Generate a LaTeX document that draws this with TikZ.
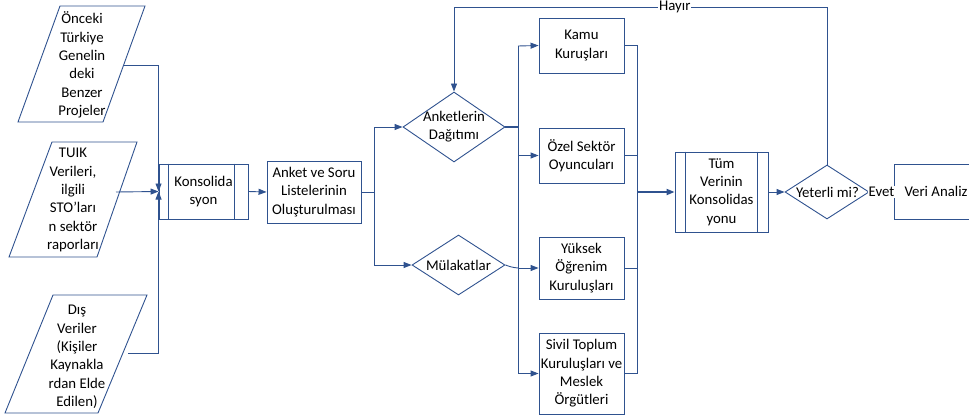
\documentclass[tikz,border=0pt]{standalone}
\usepackage{fontspec}
\setmainfont{Carlito}
\usetikzlibrary{shapes.geometric,arrows.meta}
\definecolor{flowblue}{RGB}{47,82,143}

\begin{document}
\begin{tikzpicture}[x=1pt,y=-1pt,line width=0.9pt,
    txt/.style={align=center,font=\fontsize{14.8}{18.3}\selectfont,inner sep=0pt},
    box/.style={draw=flowblue,rectangle,align=center,font=\fontsize{14.8}{18.3}\selectfont,inner sep=0pt},
    dia/.style={draw=flowblue,diamond,inner sep=0pt},
    lbl/.style={fill=white,font=\fontsize{14.8}{18.3}\selectfont,inner sep=1pt},
    link/.style={draw=flowblue},
    arr/.style={draw=flowblue,-{Triangle[length=8pt,width=6pt]}},
    heavy/.style={line width=1.8pt}]
\useasboundingbox (0,0) rectangle (969,417);
\clip (0,0) rectangle (969,417);

% Inputs
\draw [flowblue] (60,6) -- (145,6) -- (103,122) -- (18,122) -- cycle;
\node [txt] (onceki) at (82,65) {Önceki\\Türkiye\\Genelin\\deki\\Benzer\\Projeler};
\coordinate (onceki out) at (124,65);
\draw [flowblue] (52,142) -- (137,142) -- (97,257) -- (9,257) -- cycle;
\node [txt] (tuik) at (73,200) {TUIK\\Verileri,\\ilgili\\STO’ları\\n sektör\\raporları};
\coordinate (tuik out) at (116,192);
\draw [flowblue] (53,295) -- (147,295) -- (98,413) -- (5,413) -- cycle;
\node [txt] (dis) at (77,357) {Dış\\Veriler\\(Kişiler\\Kaynakla\\rdan Elde\\Edilen)};
\coordinate (dis out) at (128,353);

% Consolidation and lists
\node [box,minimum width=89pt,minimum height=55pt] (konsol) at (203.5,191.5) {Konsolida\\syon};
\draw [flowblue] ([xshift=10pt]konsol.north west) -- ([xshift=10pt]konsol.south west);
\draw [flowblue] ([xshift=-14pt]konsol.north east) -- ([xshift=-14pt]konsol.south east);
\node [box,minimum width=94pt,minimum height=62pt] (liste) at (314,192) {Anket ve Soru\\Listelerinin\\Oluşturulması};
\coordinate (split) at (374,192);

% Methods
\node [dia,minimum width=102pt,minimum height=70pt] (dagitim) at (454,127) {};
\node [txt] (dagitim text) at (454,126.5) {Anketlerin\\Dağıtımı};
\node [dia,minimum width=93pt,minimum height=60pt] (mulakat) at (458.5,265) {};
\node [txt] (mulakat text) at (458.5,265) {Mülakatlar};

% Sources
\node [box,minimum width=85pt,minimum height=55pt] (kamu) at (581.5,45.5) {Kamu\\Kuruşları};
\node [box,minimum width=85pt,minimum height=55pt] (ozel) at (581.5,155.5) {Özel Sektör\\Oyuncuları};
\node [box,minimum width=85pt,minimum height=62pt] (yuksek) at (581.5,268) {Yüksek\\Öğrenim\\Kuruluşları};
\node [box,minimum width=85pt,minimum height=81pt] (sivil) at (581.5,373.5) {Sivil Toplum\\Kuruluşları ve\\Meslek\\Örgütleri};
\coordinate (bus in top) at (518,46);
\coordinate (bus in bottom) at (518,373.5);
\coordinate (bus out top) at (637,45.5);
\coordinate (bus out bottom) at (637,373.5);

% Final steps
\node [box,minimum width=93pt,minimum height=80pt] (tum) at (721.5,192) {Tüm\\Verinin\\Konsolidas\\yonu};
\draw [flowblue] ([xshift=11pt]tum.north west) -- ([xshift=11pt]tum.south west);
\draw [flowblue] ([xshift=-11pt]tum.north east) -- ([xshift=-11pt]tum.south east);
\node [dia,minimum width=84pt,minimum height=54pt] (yeterli) at (827,192) {};
\node [txt] (yeterli text) at (827.5,192) {Yeterli mi?};
\node [box,minimum width=84pt,minimum height=55pt] (veri) at (936,191.5) {Veri Analiz};
\coordinate (loop) at (827,7);

% Connectors
\draw [arr] (onceki out) -| (konsol.west);
\draw [arr] (tuik out) -- (konsol.west);
\draw [arr] (dis out) -| (konsol.west);
\draw [arr] (konsol.east) -- (liste.west);
\draw [link] (liste.east) -- (split);
\draw [arr] (split) |- (dagitim.west);
\draw [arr] (split) |- (mulakat.west);
\draw [link] (bus in top) -- (bus in bottom);
\draw [link,heavy] (dagitim.east) -- (518,127);
\draw [link] (mulakat.east) to[bend right=8] (518,268);
\draw [arr] (bus in top) -- (kamu.west);
\draw [arr] (518,155.5) -- (ozel.west);
\draw [arr] (518,268) -- (yuksek.west);
\draw [arr] (bus in bottom) -- (sivil.west);
\draw [link] (kamu.east) -- (bus out top) -- (bus out bottom) -- (sivil.east);
\draw [link] (ozel.east) -- (637,155.5);
\draw [link] (yuksek.east) -- (637,268);
\draw [arr,heavy] (637,192) -- (tum.west);
\draw [arr] (tum.east) -- (yeterli.west);
\draw [arr] (yeterli.north) -- (loop) -| node [lbl,pos=0.204] (hayir) {Hayır} (dagitim.north);
\draw [link] (yeterli.east) -- node [lbl] (evet) {Evet} (veri.west);
\end{tikzpicture}
\end{document}
